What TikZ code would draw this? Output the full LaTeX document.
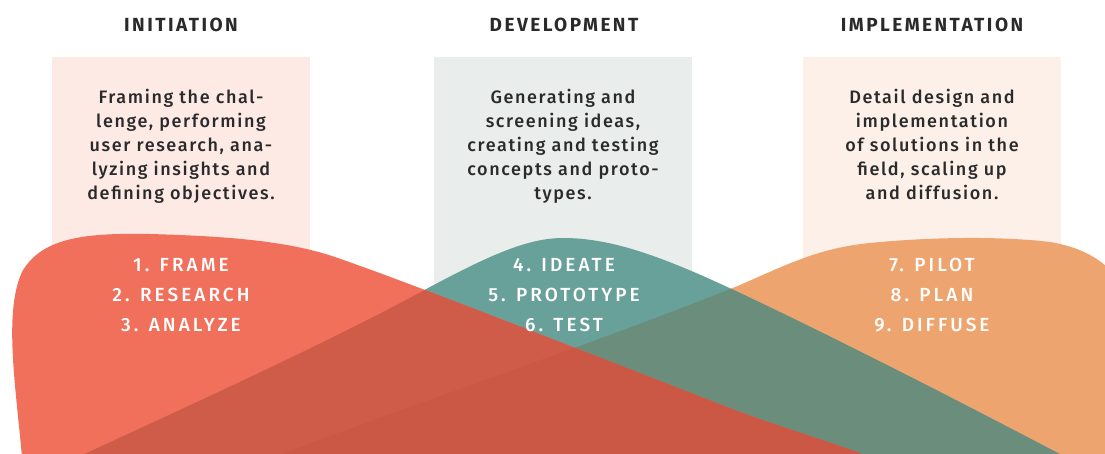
\documentclass[tikz,border=0pt]{standalone}
\usepackage{fontspec}
\setmainfont{Fira Sans}
\newfontfamily\headfont[LetterSpace=13]{Fira Sans}
\newfontfamily\bodyfont[LetterSpace=9]{Fira Sans Medium}
\newfontfamily\labfont[LetterSpace=16]{Fira Sans Medium}
\definecolor{redc}{HTML}{F0705C}
\definecolor{tealc}{HTML}{68A09A}
\definecolor{orangec}{HTML}{EEA46E}
\definecolor{rtc}{HTML}{CF5C48}
\definecolor{rtoc}{HTML}{CB5844}
\definecolor{toc}{HTML}{6B8D7B}
\definecolor{boxa}{HTML}{FDEAE5}
\definecolor{boxb}{HTML}{E9EDEC}
\definecolor{boxc}{HTML}{FCF0E8}
\definecolor{txt}{HTML}{2A2A2A}
\begin{document}
\begin{tikzpicture}[x=1pt,y=-1pt,
  heading/.style={font=\headfont\bfseries\fontsize{19}{19}\selectfont, text=txt, inner sep=0pt},
  desc/.style={font=\bodyfont\fontsize{18}{24}\selectfont, text=txt, align=center, inner sep=0pt},
  steps/.style={font=\labfont\fontsize{19}{30}\selectfont, text=white, align=center, inner sep=0pt},
  panel/.style={inner sep=0pt, minimum width=258pt, minimum height=290pt, anchor=north}]
\useasboundingbox (0,0) rectangle (1105,454);
\clip (0,0) rectangle (1105,454);
% panels
\node[panel, fill=boxa] (pa) at (181,57) {};
\node[panel, fill=boxb] (pb) at (563,57) {};
\node[panel, fill=boxc] (pc) at (932,57) {};
% blob paths
\def\redpath{(23,470) .. controls (18,400) and (2,315) .. (22,272) .. controls (42,236) and (90,233) .. (150,234) .. controls (220,236) and (285,240) .. (335,257) .. controls (430,290) and (610,362) .. (740,412) .. controls (800,434) and (865,452) .. (900,470) -- cycle}
\def\tealpath{(50,470) .. controls (190,405) and (330,342) .. (430,287) .. controls (490,255) and (528,238) .. (563,238) .. controls (610,238) and (660,255) .. (740,293) .. controls (850,345) and (980,412) .. (1090,470) -- cycle}
\def\orangepath{(240,470) .. controls (400,408) and (600,342) .. (740,285) .. controls (790,263) and (820,248) .. (870,243) .. controls (930,237) and (1000,236) .. (1050,242) .. controls (1080,247) and (1100,258) .. (1115,275) -- (1115,470) -- cycle}
\fill[orangec] \orangepath;
\fill[tealc] \tealpath;
\begin{scope}
  \clip \tealpath;
  \fill[toc] \orangepath;
\end{scope}
\fill[redc] \redpath;
\begin{scope}
  \clip \redpath;
  \fill[rtc] \tealpath;
  \clip \tealpath;
  \fill[rtoc] \orangepath;
\end{scope}
% headings
\node[heading] (ha) at (181,25) {INITIATION};
\node[heading] (hb) at (564,25) {DEVELOPMENT};
\node[heading] (hc) at (932,25) {IMPLEMENTATION};
% descriptions
\node[desc, anchor=north] (da) at (181,89) {Framing the chal-\\lenge, performing\\user research, ana-\\lyzing insights and\\defining objectives.};
\node[desc, anchor=north] (db) at (563,89) {Generating and\\screening ideas,\\creating and testing\\concepts and proto-\\types.};
\node[desc, anchor=north] (dc) at (932,89) {Detail design and\\implementation\\of solutions in the\\field, scaling up\\and diffusion.};
% steps
\node[steps, anchor=north] (sa) at (181,258) {1. FRAME\\2. RESEARCH\\3. ANALYZE};
\node[steps, anchor=north] (sb) at (564,258) {4. IDEATE\\5. PROTOTYPE\\6. TEST};
\node[steps, anchor=north] (sc) at (932,258) {7. PILOT\\8. PLAN\\9. DIFFUSE};
\end{tikzpicture}
\end{document}
